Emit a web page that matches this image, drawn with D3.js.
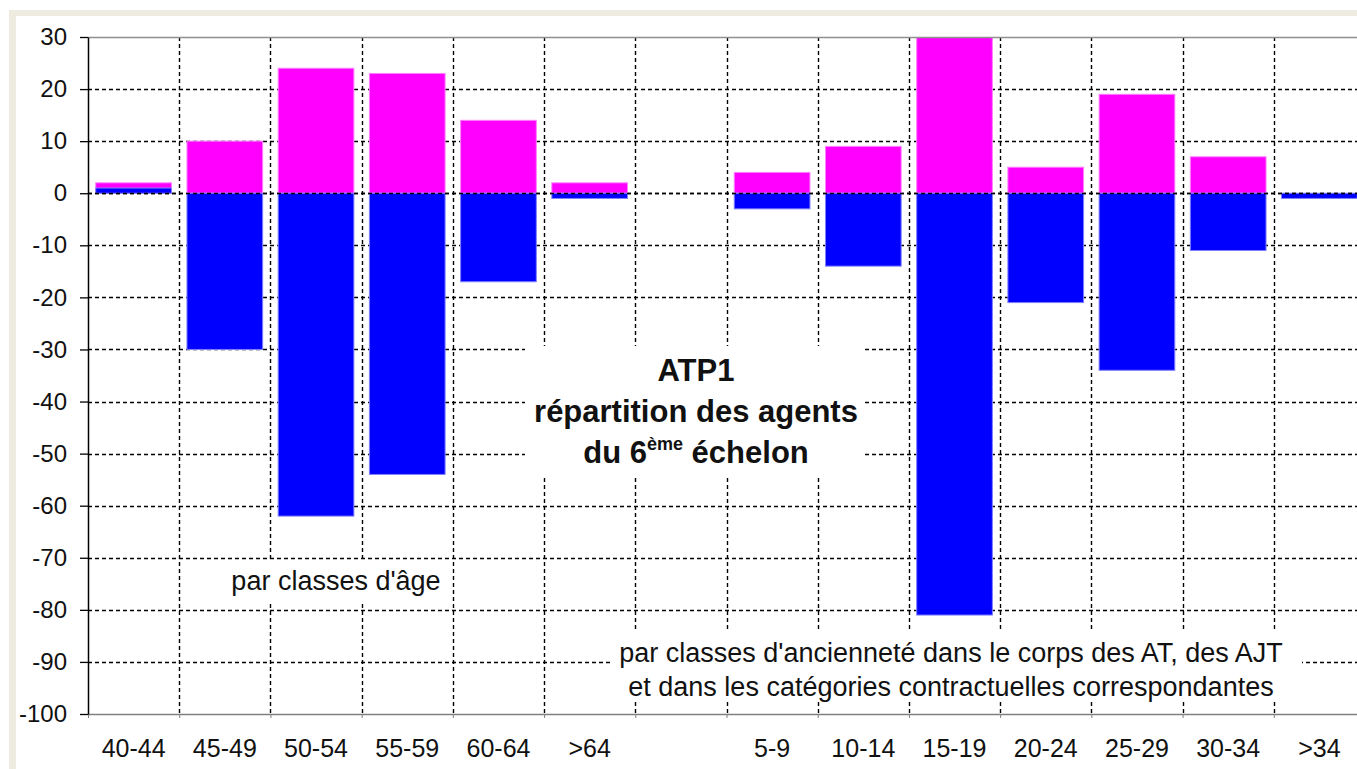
<!DOCTYPE html>
<html>
<head>
<meta charset="utf-8">
<script src="https://cdn.jsdelivr.net/npm/d3@7"></script>
<style>
  html, body { margin: 0; padding: 0; background: #fff; overflow: hidden; }
  svg { display: block; font-family: Arial, "Liberation Sans", sans-serif; }
</style>
</head>
<body>
<div id="chart"></div>
<script>
// Chart data
var categories = ["40-44", "45-49", "50-54", "55-59", "60-64", ">64", "",
                  "5-9", "10-14", "15-19", "20-24", "25-29", "30-34", ">34"];
var pinkValues = [2, 10, 24, 23, 14, 2, null, 4, 9, 32, 5, 19, 7, 0];
var blueValues = [1, -30, -62, -54, -17, -1, null, -3, -14, -81, -21, -34, -11, -1];
var yTickValues = [30, 20, 10, 0, -10, -20, -30, -40, -50, -60, -70, -80, -90, -100];

// SVG size
var svgWidth = 1357;
var svgHeight = 769;

// Plot area (extends past the right edge like the original)
var plot = { left: 88, top: 37, right: 1365, bottom: 714 };

var svg = d3.select("#chart")
  .append("svg")
  .attr("width", svgWidth)
  .attr("height", svgHeight);

// Frame
svg.append("rect")
  .attr("x", 9).attr("y", 10)
  .attr("width", svgWidth).attr("height", svgHeight)
  .attr("fill", "#eeebe1");
svg.append("rect")
  .attr("x", 16).attr("y", 16)
  .attr("width", svgWidth).attr("height", svgHeight)
  .attr("fill", "#fff");

// Scales
var xScale = d3.scaleBand()
  .domain(d3.range(categories.length))
  .range([plot.left, plot.right])
  .paddingInner(0.17)
  .paddingOuter(0.085);

var xEdges = d3.scaleLinear()
  .domain([0, categories.length])
  .range([plot.left, plot.right]);

var yScale = d3.scaleLinear()
  .domain([-100, 30])
  .range([plot.bottom, plot.top]);

// Gridlines
var grid = svg.append("g")
  .attr("stroke", "#000")
  .attr("stroke-width", 1.4)
  .attr("stroke-dasharray", "4,3");

grid.selectAll("line.h")
  .data(yTickValues.filter(d => d < 30 && d > -100))
  .enter().append("line")
  .attr("x1", plot.left).attr("x2", svgWidth)
  .attr("y1", d => Math.round(yScale(d)) + 0.5)
  .attr("y2", d => Math.round(yScale(d)) + 0.5);

grid.selectAll("line.v")
  .data(d3.range(1, categories.length))
  .enter().append("line")
  .attr("x1", d => Math.round(xEdges(d)) + 0.5)
  .attr("x2", d => Math.round(xEdges(d)) + 0.5)
  .attr("y1", plot.top).attr("y2", plot.bottom);

// White boxes behind the texts
svg.append("rect")
  .attr("x", 525).attr("y", 346).attr("width", 338).attr("height", 130)
  .attr("fill", "#fff");
svg.append("rect")
  .attr("x", 222).attr("y", 562).attr("width", 227).attr("height", 42)
  .attr("fill", "#fff");
svg.append("rect")
  .attr("x", 610).attr("y", 630).attr("width", 692).attr("height", 70)
  .attr("fill", "#fff");

// Clip the bars to the plot area
svg.append("clipPath").attr("id", "plotClip")
  .append("rect")
  .attr("x", plot.left).attr("y", plot.top)
  .attr("width", plot.right - plot.left).attr("height", plot.bottom - plot.top);

var bars = svg.append("g").attr("clip-path", "url(#plotClip)");

function drawSeries(values, fill, stroke) {
  bars.selectAll(null)
    .data(values.map((v, i) => ({ i: i, v: v })).filter(d => d.v !== null && d.v !== 0))
    .enter().append("rect")
    .attr("x", d => xScale(d.i))
    .attr("width", xScale.bandwidth())
    .attr("y", d => Math.min(yScale(d.v), yScale(0)))
    .attr("height", d => Math.abs(yScale(d.v) - yScale(0)))
    .attr("fill", fill)
    .attr("stroke", stroke)
    .attr("stroke-width", 1);
}
drawSeries(pinkValues, "#ff00ff", "#ff80ff");
drawSeries(blueValues, "#0000ff", "#8080ff");

// Zero line drawn over the bars
svg.append("line")
  .attr("x1", plot.left).attr("x2", svgWidth)
  .attr("y1", Math.round(yScale(0)) + 0.5).attr("y2", Math.round(yScale(0)) + 0.5)
  .attr("stroke", "#000").attr("stroke-width", 1.4)
  .attr("stroke-dasharray", "4,3");

// Top border
svg.append("line")
  .attr("x1", plot.left).attr("x2", svgWidth)
  .attr("y1", plot.top + 0.5).attr("y2", plot.top + 0.5)
  .attr("stroke", "#909090").attr("stroke-width", 1.5);

// X axis: ticks at category edges, labels at centres
var xTickAxis = svg.append("g")
  .attr("transform", `translate(0, ${plot.bottom})`)
  .call(d3.axisBottom(xEdges).tickValues(d3.range(0, categories.length + 1))
    .tickFormat("").tickSize(4).tickSizeOuter(0));
xTickAxis.select(".domain").attr("stroke", "#808080").attr("stroke-width", 1.5);
xTickAxis.selectAll(".tick line").attr("stroke", "#808080");

var xLabelAxis = svg.append("g")
  .attr("transform", `translate(0, ${plot.bottom})`)
  .call(d3.axisBottom(xScale).tickFormat(i => categories[i]).tickSize(0).tickPadding(25));
xLabelAxis.select(".domain").remove();
xLabelAxis.selectAll("text")
  .attr("font-size", "25px")
  .attr("font-family", "Arial, 'Liberation Sans', sans-serif")
  .attr("fill", "#111");

// Y axis (plain hyphen for negatives, like the original)
var yAxis = svg.append("g")
  .attr("transform", `translate(${plot.left}, 0)`)
  .call(d3.axisLeft(yScale).tickValues(yTickValues)
    .tickFormat(d => String(d))
    .tickSize(8).tickSizeOuter(0).tickPadding(13));
yAxis.select(".domain").attr("stroke", "#000").attr("stroke-width", 1.5);
yAxis.selectAll(".tick line").attr("stroke", "#000").attr("stroke-width", 1.3);
yAxis.selectAll("text")
  .attr("font-size", "24px")
  .attr("font-family", "Arial, 'Liberation Sans', sans-serif")
  .attr("fill", "#111");

// Title
var title = svg.append("text")
  .attr("text-anchor", "middle")
  .attr("font-size", "31px")
  .attr("font-weight", "bold")
  .attr("fill", "#111");
title.append("tspan").attr("x", 696).attr("y", 381).text("ATP1");
title.append("tspan").attr("x", 696).attr("y", 422).text("répartition des agents");
var line3 = title.append("tspan").attr("x", 696).attr("y", 463);
line3.append("tspan").text("du 6");
line3.append("tspan").attr("font-size", "18px").attr("dy", -13).text("ème");
line3.append("tspan").attr("dy", 13).text(" échelon");

// Annotations
svg.append("text")
  .attr("x", 336).attr("y", 590)
  .attr("text-anchor", "middle")
  .attr("font-size", "27px")
  .attr("fill", "#111")
  .text("par classes d'âge");

var note = svg.append("text")
  .attr("text-anchor", "middle")
  .attr("font-size", "27px")
  .attr("fill", "#111");
note.append("tspan").attr("x", 951).attr("y", 662)
  .text("par classes d'ancienneté dans le corps des AT, des AJT");
note.append("tspan").attr("x", 951).attr("y", 696)
  .text("et dans les catégories contractuelles correspondantes");
</script>
</body>
</html>
